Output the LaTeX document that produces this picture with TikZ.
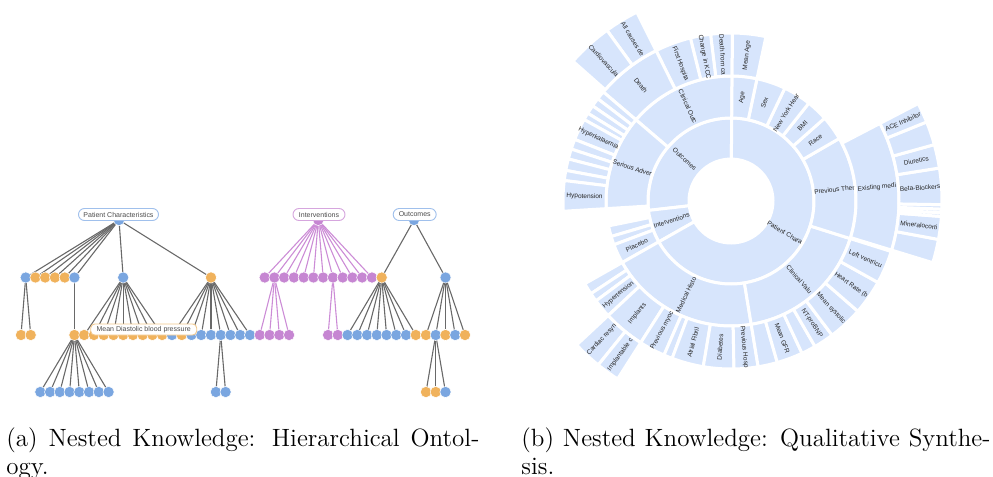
\documentclass[tikz,border=0pt]{standalone}
\usepackage{fontspec}
\newfontfamily\arialf{Liberation Sans}
\usetikzlibrary{backgrounds}
\definecolor{tblue}{RGB}{122,166,224}
\definecolor{torange}{RGB}{240,178,92}
\definecolor{tpurple}{RGB}{198,134,210}
\definecolor{tline}{RGB}{105,105,105}
\definecolor{pline}{RGB}{204,140,214}
\definecolor{lblue}{RGB}{160,192,236}
\definecolor{lpurple}{RGB}{214,166,222}
\definecolor{lorange}{RGB}{242,200,140}
\definecolor{sbfill}{RGB}{215,229,252}
\newcommand\sbw[4]{\filldraw[sbseg] (#1:#3) arc[start angle=#1, end angle=#2, radius=#3] -- (#2:#4) arc[start angle=#2, end angle=#1, radius=#4] -- cycle;}
\newcommand\sbt[3]{\node[sbtxt, rotate={mod(#1+90,180)-90}] at (#1:#2) {#3};}
\def\rA{21pt}\def\rB{41.5pt}\def\rC{62.5pt}\def\rD{84pt}\def\rE{105.5pt}
\def\mA{31.25pt}\def\mB{52pt}\def\mC{73.25pt}\def\mD{94.75pt}
\begin{document}
\begin{tikzpicture}[x=0.5pt,y=-0.5pt,
  dot/.style={circle, draw=white, line width=0.25pt, minimum size=5.6pt, inner sep=0pt},
  edge/.style={draw=tline, line width=0.55pt},
  pedge/.style={draw=pline, line width=0.55pt},
  tlab/.style={fill=white, rounded corners=3pt, line width=0.45pt, inner sep=0pt, minimum height=6pt, font=\arialf\fontsize{3.5}{4}\selectfont, text=black!70},
  sbseg/.style={fill=sbfill, draw=white, line width=1.5pt, line join=bevel},
  sbtxt/.style={font=\arialf\fontsize{3.25}{3.5}\selectfont, text=black!85, inner sep=0pt},
  captext/.style={anchor=base west, inner sep=0pt, font=\fontsize{12.5}{15}\selectfont}]
\useasboundingbox (0,0) rectangle (993,477);

% ---------------- tree: Patient Characteristics ----------------
\node[dot,fill=tblue] (P) at (119,220) {};
\foreach \x/\cl [count=\i] in {25.7/tblue,35.45/torange,45.2/torange,54.95/torange,64.7/torange,74.45/tblue,123.2/tblue,211/torange}
  \node[dot,fill=\cl] (a\i) at (\x,277.5) {};
\node[dot,fill=torange] (b1) at (21,335) {};
\node[dot,fill=torange] (b2) at (30.7,335) {};
\node[dot,fill=torange] (c) at (74.45,335) {};
\foreach \i in {1,...,9} \node[dot,fill=torange] (d\i) at ({84.2+9.75*(\i-1)},335) {};
\foreach \cl [count=\i] in {tblue,torange,tblue,tblue,tblue,tblue,tblue,tblue,tblue}
  \node[dot,fill=\cl] (e\i) at ({172+9.75*(\i-1)},335) {};
\foreach \i in {1,...,8} \node[dot,fill=tblue] (f\i) at ({74.45+9.75*(\i-4.5)},392) {};
\node[dot,fill=tblue] (g1) at (215.9,392) {};
\node[dot,fill=tblue] (g2) at (225.6,392) {};

% ---------------- tree: Interventions ----------------
\node[dot,fill=tpurple] (I) at (318.3,220) {};
\foreach \i in {1,...,12} \node[dot,fill=tpurple] (h\i) at ({264.7+9.75*(\i-1)},277.5) {};
\foreach \i in {1,...,4} \node[dot,fill=tpurple] (i\i) at ({274.45+9.75*(\i-2.5)},335) {};
\node[dot,fill=tpurple] (j1) at (328.1,335) {};
\node[dot,fill=tpurple] (j2) at (337.8,335) {};

% ---------------- tree: Outcomes ----------------
\node[dot,fill=tblue] (O) at (414,220) {};
\node[dot,fill=torange] (o1) at (381.7,277.5) {};
\node[dot,fill=tblue] (o2) at (445.5,277.5) {};
\foreach \cl [count=\i] in {tblue,tblue,tblue,tblue,tblue,tblue,tblue,torange}
  \node[dot,fill=\cl] (k\i) at ({381.7+9.75*(\i-4.5)},335) {};
\foreach \cl [count=\i] in {torange,tblue,torange,tblue,torange}
  \node[dot,fill=\cl] (l\i) at ({445.5+9.75*(\i-3)},335) {};
\foreach \cl [count=\i] in {torange,torange,tblue}
  \node[dot,fill=\cl] (m\i) at ({435.75+9.75*(\i-2)},392) {};

\begin{pgfonlayer}{background}
\foreach \i in {1,...,8} \draw[edge] (P.center) -- (a\i.center);
\draw[edge] (a1.center) -- (b1.center);
\draw[edge] (a1.center) -- (b2.center);
\draw[edge] (a6.center) -- (c.center);
\foreach \i in {1,...,9} \draw[edge] (a7.center) -- (d\i.center);
\foreach \i in {1,...,9} \draw[edge] (a8.center) -- (e\i.center);
\foreach \i in {1,...,8} \draw[edge] (c.center) -- (f\i.center);
\draw[edge] (e6.center) -- (g1.center);
\draw[edge] (e6.center) -- (g2.center);
\foreach \i in {1,...,12} \draw[pedge] (I.center) -- (h\i.center);
\foreach \i in {1,...,4} \draw[pedge] (h2.center) -- (i\i.center);
\draw[pedge] (h8.center) -- (j1.center);
\draw[pedge] (h8.center) -- (j2.center);
\draw[edge] (O.center) -- (o1.center);
\draw[edge] (O.center) -- (o2.center);
\foreach \i in {1,...,8} \draw[edge] (o1.center) -- (k\i.center);
\foreach \i in {1,...,5} \draw[edge] (o2.center) -- (l\i.center);
\foreach \i in {1,...,3} \draw[edge] (l2.center) -- (m\i.center);
\end{pgfonlayer}

\node[tlab, draw=lblue, minimum width=40pt] (Lp) at (118.5,214.5) {Patient Characteristics};
\node[tlab, draw=lpurple, minimum width=26pt] (Li) at (319,214.5) {Interventions};
\node[tlab, draw=lblue, minimum width=21.5pt] (Lo) at (414.7,214.5) {Outcomes};
\node[tlab, draw=lorange, rounded corners=2pt, minimum width=53pt, minimum height=5.5pt] (Lm) at (143.7,329.5) {Mean Diastolic blood pressure};

% ---------------- sunburst ----------------
\begin{scope}[shift={(731,201)}]
% ring 1
\sbw{89.5}{186.5}{\rA}{\rB}
\sbw{186.5}{209.5}{\rA}{\rB}
\sbw{-150.5}{89.5}{\rA}{\rB}
% ring 2
\sbw{89.5}{139.5}{\rB}{\rC}
\sbw{139.5}{183.5}{\rB}{\rC}
\sbw{191.5}{196.5}{\rB}{\rC}
\sbw{196.5}{200.5}{\rB}{\rC}
\sbw{200.5}{209.5}{\rB}{\rC}
\sbw{209.5}{279.3}{\rB}{\rC}
\sbw{279.3}{342.5}{\rB}{\rC}
\sbw{-17.5}{30}{\rB}{\rC}
\sbw{30}{41.5}{\rB}{\rC}
\sbw{41.5}{51.5}{\rB}{\rC}
\sbw{51.5}{64.5}{\rB}{\rC}
\sbw{64.5}{78}{\rB}{\rC}
\sbw{78}{89.5}{\rB}{\rC}
% ring 3
\foreach \a/\b in {89.5/97,97/104,104/116.5,116.5/139.5,139.5/142.5,142.5/145.5,145.5/148.5,148.5/151,151/158.5,158.5/162,162/165.5,165.5/169.5,169.5/173,173/183.5,
  209.5/213.5,213.5/216.5,216.5/223,223/237.5,237.5/246.5,246.5/249.5,249.5/260.5,260.5/271,271/279.3,
  279.3/286,286/295,295/300,300/307,307/319,319/331,331/342.5,-17/27.5,78/89.5}
  {\sbw{\a}{\b}{\rC}{\rD}}
% ring 4
\foreach \a/\b in {116.5/126,126/138.5,223/231,231/237.5,-17/-10.5,-10.5/-4.2,-4.2/-3.2,-3.2/-2.2,-2.2/-1,-1/9,9/15.5,15.5/22,22/27.5}
  {\sbw{\a}{\b}{\rD}{\rE}}
% labels ring 1
\sbt{138}{\mA}{Outcomes}
\sbt{198}{\mA}{Interventions}
\sbt{-30.5}{\mA}{Patient Chara}
% labels ring 2
\sbt{114.5}{\mB}{Clinical Outc}
\sbt{161.5}{\mB}{Serious Adver}
\sbt{205}{\mB}{Placebo}
\sbt{244.4}{\mB}{Medical Histo}
\sbt{310.9}{\mB}{Clinical Valu}
\sbt{6.25}{\mB}{Previous Ther}
\sbt{35.75}{\mB}{Race}
\sbt{46.5}{\mB}{BMI}
\sbt{58}{\mB}{New York Hear}
\sbt{71.25}{\mB}{Sex}
\sbt{83.75}{\mB}{Age}
% labels ring 3
\sbt{93.25}{\mC}{Death from ca}
\sbt{100.5}{\mC}{Change in KCC}
\sbt{110.25}{\mC}{First Hospita}
\sbt{128}{\mC}{Death}
\sbt{154.75}{\mC}{Hyperkalaemia}
\sbt{178.25}{\mC}{Hypotension}
\sbt{219.75}{\mC}{Hypertension}
\sbt{230.25}{\mC}{Implants}
\sbt{242}{\mC}{Previous myoc}
\sbt{255}{\mC}{Atrial Fibril}
\sbt{265.75}{\mC}{Diabetes}
\sbt{275.15}{\mC}{Previous Hosp}
\sbt{290.5}{\mC}{Mean GFR}
\sbt{303.5}{\mC}{NT-proBNP}
\sbt{313}{\mC}{Mean systolic}
\sbt{325}{\mC}{Heart Rate (b}
\sbt{336.75}{\mC}{Left ventricu}
\sbt{5.25}{\mC}{Existing medi}
\sbt{83.75}{\mC}{Mean Age}
% labels ring 4
\sbt{121.25}{\mD}{All causes de}
\sbt{132.25}{\mD}{Cardiovascula}
\sbt{227}{\mD}{Cardiac resyn}
\sbt{234.25}{\mD}{Implantable c}
\sbt{-7.35}{\mD}{Mineralocorti}
\sbt{4}{\mD}{Beta-Blockers}
\sbt{12.25}{\mD}{Diuretics}
\sbt{24.75}{\mD}{ACE Inhibitor}
\end{scope}

% ---------------- captions ----------------
\node[captext] (ca1) at (6,446.5) {\makebox[236.5pt][s]{(a) Nested Knowledge: Hierarchical Ontol-}};
\node[captext] (ca2) at (6,474) {ogy.};
\node[captext] (cb1) at (521,446.5) {\makebox[234.5pt][s]{(b) Nested Knowledge: Qualitative Synthe-}};
\node[captext] (cb2) at (521,474) {sis.};
\end{tikzpicture}
\end{document}
